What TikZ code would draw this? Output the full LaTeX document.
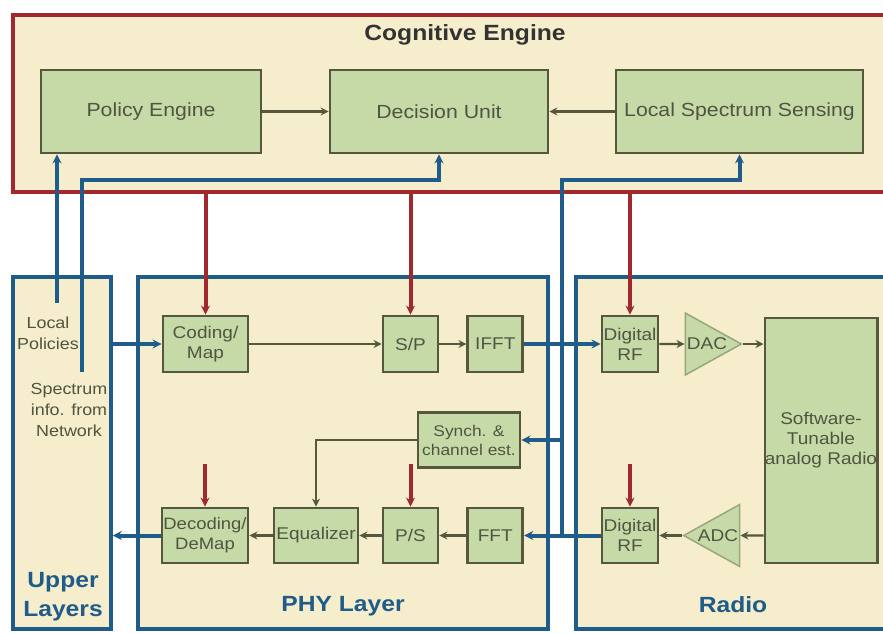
\documentclass[tikz,border=0pt]{standalone}
\usepackage{fontspec}
\setmainfont[FakeStretch=1.12]{Liberation Sans}
\usetikzlibrary{positioning,shapes.geometric,arrows.meta}
\definecolor{cream}{HTML}{F5EDCB}
\definecolor{boxgreen}{HTML}{C6DAA8}
\definecolor{olive}{HTML}{55583C}
\definecolor{ceRed}{HTML}{A0282E}
\definecolor{layBlue}{HTML}{1F5C8A}
\definecolor{txtGray}{HTML}{4F5540}

\begin{document}
\begin{tikzpicture}[x=1pt,y=-1pt,
  layer/.style={draw=layBlue,line width=3.5pt,fill=cream,inner sep=0pt},
  big/.style={draw=olive,line width=2.8pt,fill=boxgreen,text=txtGray,inner sep=0pt,
    minimum height=83pt,font=\fontsize{19}{22}\selectfont},
  blk/.style={draw=olive,line width=2.8pt,fill=boxgreen,text=txtGray,inner sep=0pt,
    align=center,minimum width=55pt,minimum height=56pt,font=\fontsize{17}{20}\selectfont},
  amp/.style={isosceles triangle,isosceles triangle stretches,draw=boxgreen!60!olive,
    line width=1.5pt,fill=boxgreen,text=txtGray,inner sep=0pt,
    minimum width=62pt,minimum height=56pt,font=\fontsize{17}{20}\selectfont},
  title/.style={font=\bfseries\fontsize{22}{29}\selectfont,align=center},
  lbl/.style={text=txtGray,align=center,font=\fontsize{16}{21}\selectfont},
  conn/.style={olive,line width=2.4pt,-{Stealth[length=8pt,width=8pt]}},
  bus/.style={layBlue,line width=4pt,-{Stealth[length=9pt,width=9pt]}},
  ctrl/.style={ceRed,line width=4pt,-{Stealth[length=9pt,width=9pt]}}]
  \useasboundingbox (0,0) rectangle (883,633);
  % The three layers and the cognitive engine
  \node (ce) [draw=ceRed,line width=3.5pt,fill=cream,inner sep=0pt,
    minimum width=877pt,minimum height=177pt] at (451.5,103.5) {};
  \node (cetitle) [title,text=black!80] at (465,35) {Cognitive Engine};
  \node (ul) [layer,minimum width=98pt,minimum height=352pt] at (62,453) {};
  \node (phy) [layer,minimum width=410pt,minimum height=352pt] at (343,453) {};
  \node (rad) [layer,minimum width=314pt,minimum height=352pt] at (733,453) {};
  \node (ultitle) [title,text=layBlue] at (63,597) {Upper\\Layers};
  \node (phytitle) [title,text=layBlue] at (343,606) {PHY Layer};
  \node (radtitle) [title,text=layBlue] at (733,605) {Radio};
  % Cognitive engine units
  \node (pol) [big,minimum width=220pt] at (151,111.5) {Policy Engine};
  \node (dec) [big,minimum width=218pt] at (439,111.5) {Decision Unit};
  \node (lss) [big,minimum width=247pt] at (739.5,111.5) {Local Spectrum Sensing};
  % PHY layer blocks
  \node (code) [blk,minimum width=85pt] at (205.5,344) {Coding/\\Map};
  \node (sp) [blk] at (410.5,344) {S/P};
  \node (ifft) [blk,right=27pt of sp] {IFFT};
  \node (synch) [blk,minimum width=102pt,minimum height=55pt,
    font=\fontsize{15.5}{19}\selectfont] at (469,440) {Synch. \&\\channel est.};
  \node (decode) [blk,minimum width=86pt,minimum height=55pt,
    font=\fontsize{16.5}{20}\selectfont] at (205,535.5) {Decoding/\\DeMap};
  \node (eq) [blk,minimum width=84pt,minimum height=55pt] at (316,535.5) {Equalizer};
  \node (ps) [blk,minimum height=55pt] at (410.5,535.5) {P/S};
  \node (fft) [blk,minimum height=55pt,right=27pt of ps] {FFT};
  % Radio blocks
  \node (rf1) [blk,minimum width=56pt] at (630,344) {Digital\\RF};
  \node (rf2) [blk,minimum width=56pt,minimum height=55pt] at (630,535.5) {Digital\\RF};
  \node (dac) [amp] at (707,344) {DAC};
  \node (adc) [amp,shape border rotate=180] at (718,535.5) {ADC};
  \node (star) [blk,minimum width=111pt,minimum height=245pt] at (821,440.5)
    {Software-\\Tunable\\analog Radio};
  % Upper layer notes
  \node (lpol) [lbl] at (48,333) {Local\\Policies};
  \node (sinfo) [lbl] at (69,410) {Spectrum\\info. from\\Network};
  \coordinate (lpEnd) at (57,303);
  \coordinate (snEnd) at (82,372);
  \coordinate (snBus) at (82,180);
  \coordinate (tap) at (562,535.5);
  \coordinate (rBus) at (562,180);
  % Thin signal arrows
  \draw[conn] (pol) -- (dec);
  \draw[conn] (lss) -- (dec);
  \draw[conn] (code) -- (sp);
  \draw[conn] (sp) -- (ifft);
  \draw[conn] (rf1) -- (dac);
  \draw[conn] (dac.apex) -- (dac.apex -| star.west);
  \draw[conn] (star.west |- adc) -- (adc.east);
  \draw[conn] (adc.apex) -- (rf2);
  \draw[conn] (fft) -- (ps);
  \draw[conn] (ps) -- (eq);
  \draw[conn] (eq) -- (decode);
  \draw[conn] (synch.west) -| (eq.north);
  % Blue data and sensing paths
  \draw[bus] (ul.east |- code) -- (code);
  \draw[bus] (ifft) -- (rf1);
  \draw[bus] (rf2) -- (fft);
  \draw[bus] (decode) -- (ul.east |- decode);
  \draw[bus] (lpEnd) -- (lpEnd |- pol.south);
  \draw[bus] (snEnd) -- (snBus) -| (dec.south);
  \draw[bus] (tap) -- (rBus) -| (lss.south);
  \draw[bus] (tap |- synch.east) -- (synch.east);
  % Red control arrows
  \draw[ctrl] (code.north |- ce.south) -- (code.north);
  \draw[ctrl] (sp.north |- ce.south) -- (sp.north);
  \draw[ctrl] (rf1.north |- ce.south) -- (rf1.north);
  \draw[ctrl] (decode.north) ++(0,-43) -- (decode.north);
  \draw[ctrl] (ps.north) ++(0,-43) -- (ps.north);
  \draw[ctrl] (rf2.north) ++(0,-43) -- (rf2.north);
\end{tikzpicture}
\end{document}
